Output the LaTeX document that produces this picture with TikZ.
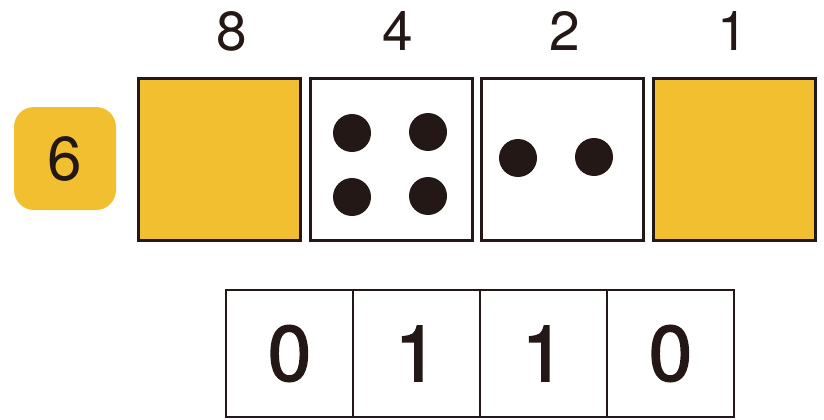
\documentclass[tikz,border=0pt]{standalone}
\usepackage{fontspec}
\setmainfont{TeX Gyre Heros}
\newfontfamily\digitfont[FakeBold=2]{TeX Gyre Heros}
\definecolor{gold}{HTML}{F2BF30}
\definecolor{ink}{HTML}{231815}
\begin{document}
\begin{tikzpicture}[x=1pt,y=-1pt,
  sq/.style={draw=ink,line width=3pt,minimum width=162pt,minimum height=162pt,inner sep=0pt},
  cell/.style={draw=ink,line width=2.6pt,minimum width=127pt,minimum height=127pt,inner sep=0pt,font=\digitfont\fontsize{78}{78}\selectfont,text=ink},
  lbl/.style={font=\fontsize{55}{55}\selectfont,text=ink,inner sep=0pt},
  dot/.style={circle,fill=ink,minimum size=38pt,inner sep=0pt}]
\useasboundingbox (0,0) rectangle (824,420);
\node[lbl] (l8) at (232,31) {8};
\node[lbl] (l4) at (398,31) {4};
\node[lbl] (l2) at (565,31) {2};
\node[lbl] (l1) at (733,31) {1};
\node[fill=gold,rounded corners=20pt,minimum width=102pt,minimum height=103pt,inner sep=0pt,font=\fontsize{62}{62}\selectfont,text=ink] (six) at (65,158.5) {6};
\node[sq,fill=gold] (s8) at (219.5,159.5) {};
\node[sq,fill=white] (s4) at (391,159.5) {};
\node[sq,fill=white] (s2) at (562.5,159.5) {};
\node[sq,fill=gold] (s1) at (734,159.5) {};
\node[dot] (d1) at (352,133) {};
\node[dot] (d2) at (428,132) {};
\node[dot] (d3) at (352,197) {};
\node[dot] (d4) at (428,196) {};
\node[dot] (d5) at (518,158) {};
\node[dot] (d6) at (594,157) {};
\node[cell] (b1) at (289.5,353.5) {0};
\node[cell] (b2) at (416.5,353.5) {1};
\node[cell] (b3) at (543.5,353.5) {1};
\node[cell] (b4) at (670.5,353.5) {0};
\end{tikzpicture}
\end{document}
